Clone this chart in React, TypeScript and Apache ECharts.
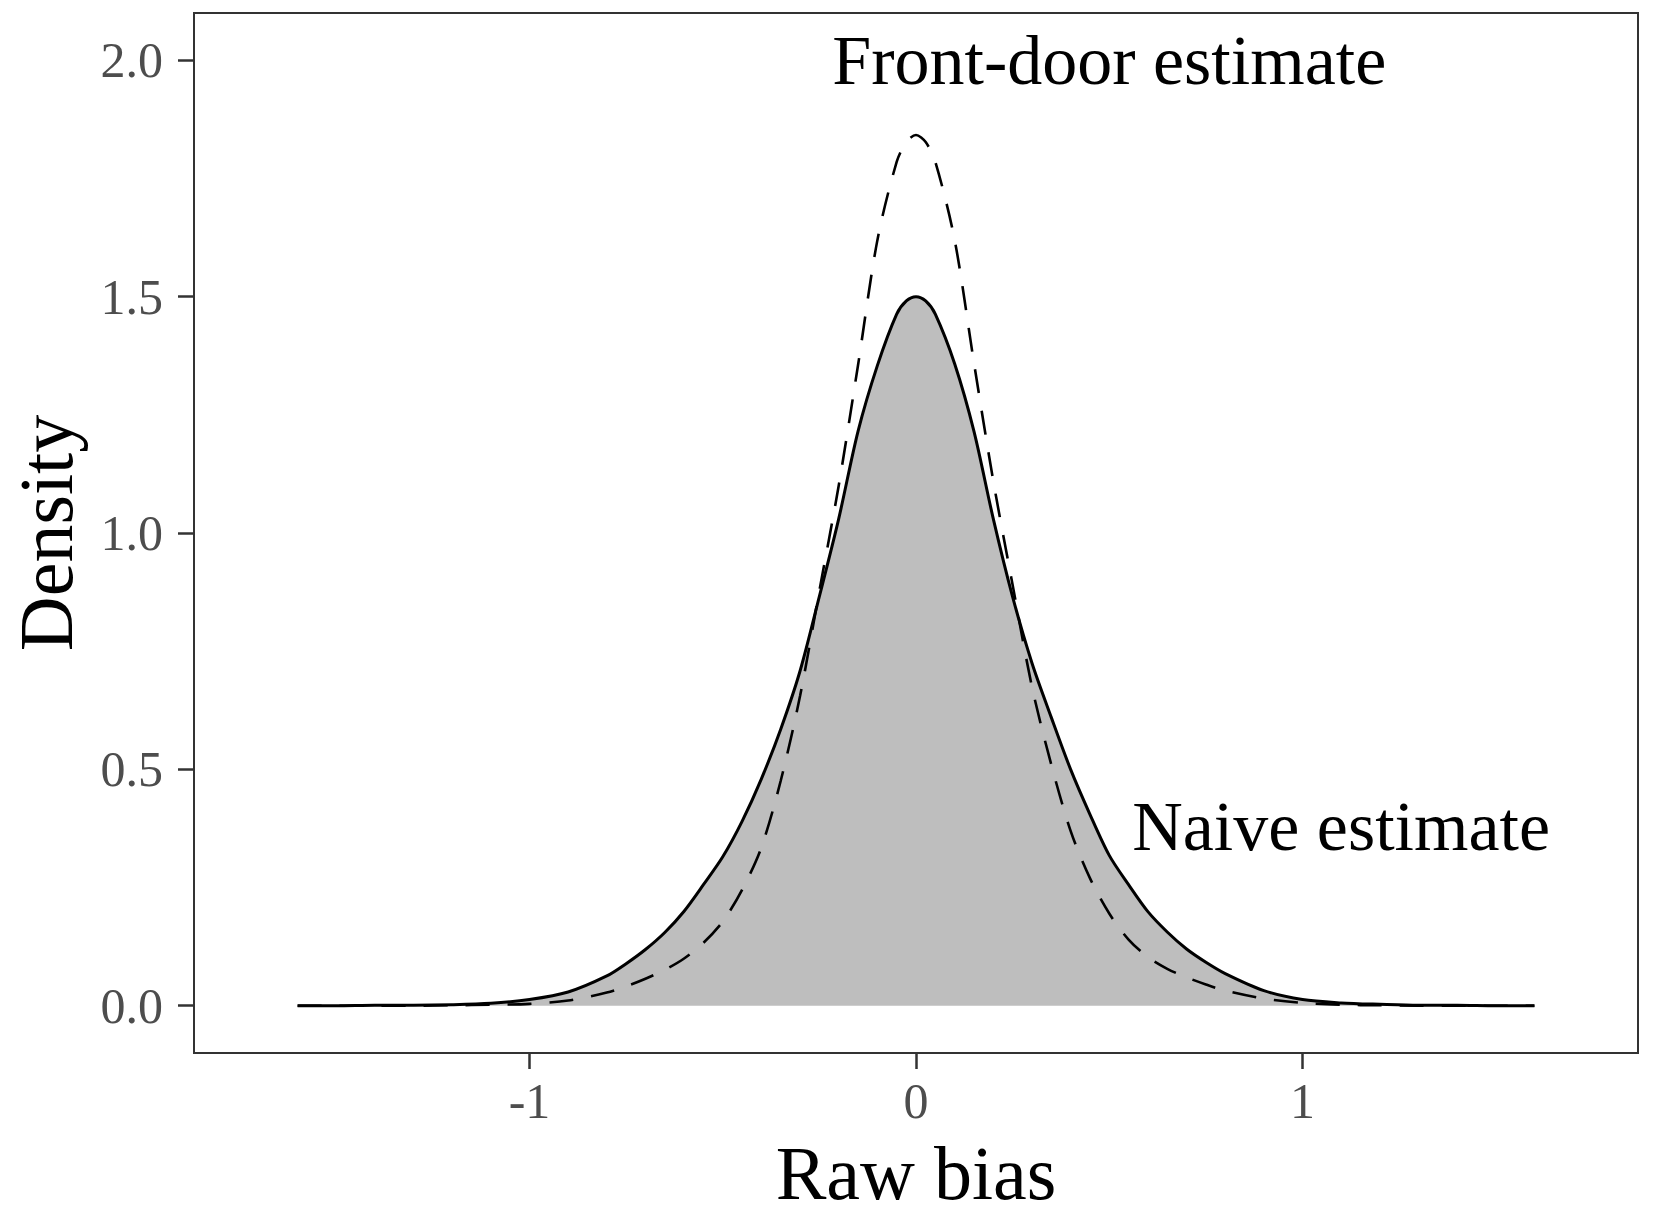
import React, { useEffect, useRef } from "react";
import * as echarts from "echarts";

// Raw bias grid (x values)
const biasValues = [
  -1.6, -1.5, -1.4, -1.3, -1.2, -1.1, -1.0, -0.9, -0.8, -0.75, -0.7, -0.65, -0.6,
  -0.55, -0.5, -0.45, -0.4, -0.35, -0.3, -0.25, -0.2, -0.15, -0.1, -0.05, -0.025,
  0,
  0.025, 0.05, 0.1, 0.15, 0.2, 0.25, 0.3, 0.35, 0.4, 0.45, 0.5, 0.55,
  0.6, 0.65, 0.7, 0.75, 0.8, 0.9, 1.0, 1.1, 1.2, 1.3, 1.4, 1.5, 1.6,
];

// Naive estimate density (solid, filled)
const naiveDensity = [
  0, 0, 0.001, 0.001, 0.002, 0.005, 0.013, 0.029, 0.063, 0.089, 0.119, 0.155, 0.2,
  0.256, 0.315, 0.39, 0.48, 0.585, 0.708, 0.866, 1.03, 1.215, 1.354, 1.463, 1.491,
  1.5,
  1.491, 1.463, 1.358, 1.215, 1.03, 0.865, 0.725, 0.61, 0.5, 0.405, 0.318, 0.256,
  0.199, 0.156, 0.12, 0.092, 0.068, 0.032, 0.013, 0.006, 0.003, 0.001, 0.001, 0, 0,
];

// Front-door estimate density (dashed)
const frontDoorDensity = [
  0, 0, 0, 0, 0.001, 0.002, 0.004, 0.011, 0.028, 0.041, 0.057, 0.076, 0.1,
  0.133, 0.178, 0.245, 0.335, 0.476, 0.655, 0.878, 1.1, 1.355, 1.619, 1.785, 1.827,
  1.842,
  1.827, 1.785, 1.62, 1.36, 1.11, 0.89, 0.675, 0.51, 0.37, 0.27, 0.195, 0.14,
  0.103, 0.078, 0.06, 0.045, 0.032, 0.015, 0.006, 0.002, 0.001, 0, 0, 0, 0,
];

const xTicks = [-1, 0, 1];
const xTickLabels = ["-1", "0", "1"];
const yTicks = [0, 0.5, 1, 1.5, 2];
const yTickLabels = ["0.0", "0.5", "1.0", "1.5", "2.0"];

const annotations = [
  { name: "Front-door estimate", x: 0.5, y: 2.0 },
  { name: "Naive estimate", x: 1.1, y: 0.38 },
];

const FONT = "'Liberation Serif', 'DejaVu Serif', serif";

export default function App() {
  const ref = useRef<HTMLDivElement>(null);

  useEffect(() => {
    if (!ref.current) return;
    const chart = echarts.init(ref.current, undefined, { renderer: "svg" });

    const naiveData = biasValues.map((x, i) => [x, naiveDensity[i]]);
    const frontData = biasValues.map((x, i) => [x, frontDoorDensity[i]]);

    chart.setOption({
      animation: false,
      backgroundColor: "#ffffff",
      grid: {
        left: 183,
        right: 16,
        top: 13,
        bottom: 152,
        show: true,
        borderColor: "#333333",
        borderWidth: 2,
        backgroundColor: "transparent",
        containLabel: false,
      },
      xAxis: {
        type: "value",
        min: -1.868,
        max: 1.868,
        name: "Raw bias",
        nameLocation: "middle",
        nameGap: 82,
        nameTextStyle: { fontFamily: FONT, fontSize: 76, color: "#000000" },
        axisLine: { show: false, onZero: false },
        splitLine: { show: false },
        axisTick: {
          show: true,
          length: 16,
          lineStyle: { color: "#333333", width: 2.5 },
          customValues: xTicks,
        },
        axisLabel: {
          show: true,
          margin: 23,
          fontFamily: FONT,
          fontSize: 50,
          color: "#4d4d4d",
          customValues: xTicks,
          formatter: (v: number) => {
            const i = xTicks.indexOf(v);
            return i >= 0 ? xTickLabels[i] : "";
          },
        },
      },
      yAxis: {
        type: "value",
        min: -0.1,
        max: 2.1,
        name: "Density",
        nameLocation: "middle",
        nameRotate: 90,
        nameGap: 110,
        nameTextStyle: { fontFamily: FONT, fontSize: 76, color: "#000000" },
        axisLine: { show: false, onZero: false },
        splitLine: { show: false },
        axisTick: {
          show: true,
          length: 16,
          lineStyle: { color: "#333333", width: 2.5 },
          customValues: yTicks,
        },
        axisLabel: {
          show: true,
          margin: 31,
          fontFamily: FONT,
          fontSize: 50,
          color: "#4d4d4d",
          customValues: yTicks,
          formatter: (v: number) => {
            const i = yTicks.findIndex((t) => Math.abs(t - v) < 1e-9);
            return i >= 0 ? yTickLabels[i] : "";
          },
        },
      },
      series: [
        {
          name: "Naive estimate",
          type: "line",
          data: naiveData,
          smooth: 0.3,
          showSymbol: false,
          symbol: "none",
          lineStyle: { color: "#000000", width: 3 },
          areaStyle: { color: "#bebebe", opacity: 1, origin: 0 },
          z: 2,
        },
        {
          name: "Front-door estimate",
          type: "line",
          data: frontData,
          smooth: 0.3,
          showSymbol: false,
          symbol: "none",
          lineStyle: { color: "#000000", width: 2.6, type: [24, 18] },
          z: 3,
        },
        {
          name: "annotations",
          type: "scatter",
          data: annotations.map((a) => ({ name: a.name, value: [a.x, a.y] })),
          symbolSize: 2,
          itemStyle: { color: "rgba(0,0,0,0)" },
          label: {
            show: true,
            position: "inside",
            formatter: (p: any) => p.name,
            fontFamily: FONT,
            fontSize: 70,
            color: "#000000",
            textBorderWidth: 0,
            opacity: 1,
          },
          labelLayout: { hideOverlap: false },
          z: 4,
        },
      ],
    });

    return () => chart.dispose();
  }, []);

  return (
    <div
      ref={ref}
      style={{ position: "fixed", left: 0, top: 0, width: 1654, height: 1216, background: "#fff" }}
    />
  );
}
